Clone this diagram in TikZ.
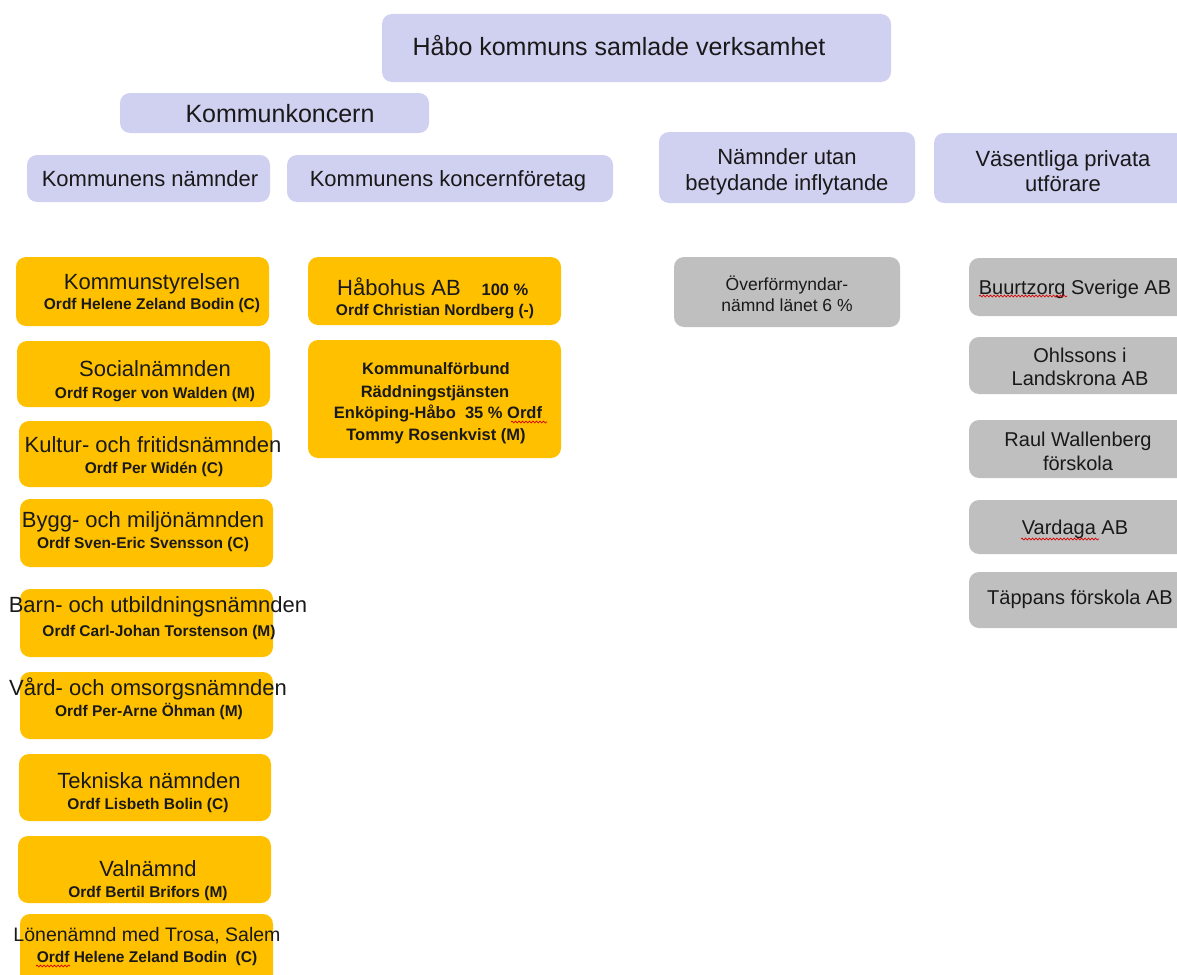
\documentclass[tikz,border=0pt]{standalone}
\usepackage{fontspec}
\setmainfont{Liberation Sans}
\usetikzlibrary{decorations.pathmorphing}
\definecolor{lav}{RGB}{208,208,241}
\definecolor{gold}{RGB}{255,192,0}
\definecolor{grey}{RGB}{191,191,191}
\tikzset{
  box/.style={rounded corners=10pt, inner sep=0pt, draw=none},
  lavbox/.style={box, fill=lav},
  ybox/.style={box, fill=gold},
  gbox/.style={box, fill=grey},
  txt/.style={inner sep=0pt, text depth=0pt, text=black!90},
  fA/.style={txt, font=\fontsize{25}{30}\selectfont, text height=18pt},
  fB/.style={txt, font=\fontsize{22}{26}\selectfont, text height=15.8pt},
  fBs/.style={txt, font=\fontsize{19.5}{23}\selectfont, text height=14pt},
  fC/.style={txt, font=\fontsize{20}{24}\selectfont, text height=14.4pt},
  fD/.style={txt, font=\fontsize{17.5}{21}\selectfont, text height=12.6pt},
  fE/.style={txt, font=\bfseries\fontsize{16.5}{20}\selectfont, text height=11.9pt},
  fF/.style={txt, font=\bfseries\fontsize{15.5}{19}\selectfont, text height=11.2pt},
  squig/.style={draw=red!85!black, line width=0.7pt, decorate, decoration={snake, amplitude=0.9pt, segment length=3.5pt}}
}
\newcommand\panel[6]{\node[#6, minimum width={(#4)-(#2)}, minimum height={(#5)-(#3)}] (#1) at ({((#2)+(#4))/2},{((#3)+(#5))/2}) {};}
\begin{document}
\begin{tikzpicture}[x=1pt,y=-1pt]
\useasboundingbox (0,0) rectangle (1177,974);
\clip (0,0) rectangle (1177,974);
% headers
\panel{top}{382}{14}{891}{82}{lavbox}
\node[fA] (topt) at (619,47) {Håbo kommuns samlade verksamhet};
\panel{kk}{120}{93}{429}{133}{lavbox}
\node[fA] (kkt) at (280,113) {Kommunkoncern};
\panel{kn}{27}{155}{270}{202}{lavbox}
\node[fB] (knt) at (150,179) {Kommunens nämnder};
\panel{kf}{287}{155}{613}{202}{lavbox}
\node[fB] (kft) at (448,179) {Kommunens koncernföretag};
\panel{nu}{659}{132}{915}{203}{lavbox}
\node[fB] (nua) at (787,157) {Nämnder utan};
\node[fB] (nub) at (787,183) {betydande inflytande};
\panel{vp}{934}{133}{1190}{203}{lavbox}
\node[fB] (vpa) at (1063,159) {Väsentliga privata};
\node[fB] (vpb) at (1063,184) {utförare};
% left column
\panel{ks}{16}{257}{269}{326}{ybox}
\node[fB] (ksa) at (152,282) {Kommunstyrelsen};
\node[fF] (ksb) at (152,304) {Ordf Helene Zeland Bodin (C)};
\panel{sn}{17}{341}{270}{407}{ybox}
\node[fB] (sna) at (155,369) {Socialnämnden};
\node[fF] (snb) at (155,393) {Ordf Roger von Walden (M)};
\panel{kfn}{19}{421}{272}{487}{ybox}
\node[fB] (kfna) at (153,445) {Kultur- och fritidsnämnden};
\node[fF] (kfnb) at (154,468) {Ordf Per Widén (C)};
\panel{bm}{20}{499}{273}{567}{ybox}
\node[fB] (bma) at (143,520) {Bygg- och miljönämnden};
\node[fF] (bmb) at (143,543) {Ordf Sven-Eric Svensson (C)};
\panel{bu}{20}{589}{273}{657}{ybox}
\node[fB] (bua) at (158,605) {Barn- och utbildningsnämnden};
\node[fF] (bub) at (159,631) {Ordf Carl-Johan Torstenson (M)};
\panel{vo}{20}{672}{273}{739}{ybox}
\node[fB] (voa) at (148,688) {Vård- och omsorgsnämnden};
\node[fF] (vob) at (149,711) {Ordf Per-Arne Öhman (M)};
\panel{tn}{19}{754}{271}{821}{ybox}
\node[fB] (tna) at (149,781) {Tekniska nämnden};
\node[fF] (tnb) at (148,804) {Ordf Lisbeth Bolin (C)};
\panel{vn}{18}{836}{271}{903}{ybox}
\node[fB] (vna) at (148,869) {Valnämnd};
\node[fF] (vnb) at (148,892) {Ordf Bertil Brifors (M)};
\panel{ln}{20}{914}{273}{995}{ybox}
\node[fBs] (lna) at (147,934) {Lönenämnd med Trosa, Salem};
\node[fF] (lnb) at (147,957) {Ordf Helene Zeland Bodin\ \ (C)};
% middle column
\panel{hh}{308}{257}{561}{325}{ybox}
\node[txt, font=\fontsize{22}{26}\selectfont, anchor=base] (hha) at (399,295) {Håbohus AB};
\node[txt, font=\bfseries\fontsize{16.5}{20}\selectfont, anchor=base] (hhp) at (505,295) {100 \%};
\node[fF] (hhb) at (435,310) {Ordf Christian Nordberg (-)};
\panel{rt}{308}{340}{561}{458}{ybox}
\node[fE] (rta) at (436,369) {Kommunalförbund};
\node[fE] (rtb) at (435,392) {Räddningstjänsten};
\node[fE] (rtc) at (438,413) {Enköping-Håbo\ \ 35 \% Ordf};
\node[fE] (rtd) at (436,435) {Tommy Rosenkvist (M)};
% other
\panel{ov}{674}{257}{900}{327}{gbox}
\node[fD] (ova) at (787,284) {Överförmyndar-};
\node[fD] (ovb) at (787,305) {nämnd länet 6 \%};
\panel{bz}{969}{258}{1190}{316}{gbox}
\node[fC] (bzt) at (1075,287) {Buurtzorg Sverige AB};
\panel{oh}{969}{337}{1190}{394}{gbox}
\node[fC] (oha) at (1080,355) {Ohlssons i};
\node[fC] (ohb) at (1080,378) {Landskrona AB};
\panel{rw}{969}{420}{1190}{478}{gbox}
\node[fC] (rwa) at (1078,439) {Raul Wallenberg};
\node[fC] (rwb) at (1078,463) {förskola};
\panel{va}{969}{500}{1190}{554}{gbox}
\node[fC] (vat) at (1075,527) {Vardaga AB};
\panel{tp}{969}{572}{1190}{628}{gbox}
\node[fC] (tpt) at (1080,597) {Täppans förskola AB};
% spell-check squiggles
\draw[squig] (979,296) -- (1067,296);
\draw[squig] (1021,539) -- (1099,539);
\draw[squig] (511,422) -- (547,422);
\draw[squig] (36,966) -- (70,966);
\end{tikzpicture}
\end{document}
